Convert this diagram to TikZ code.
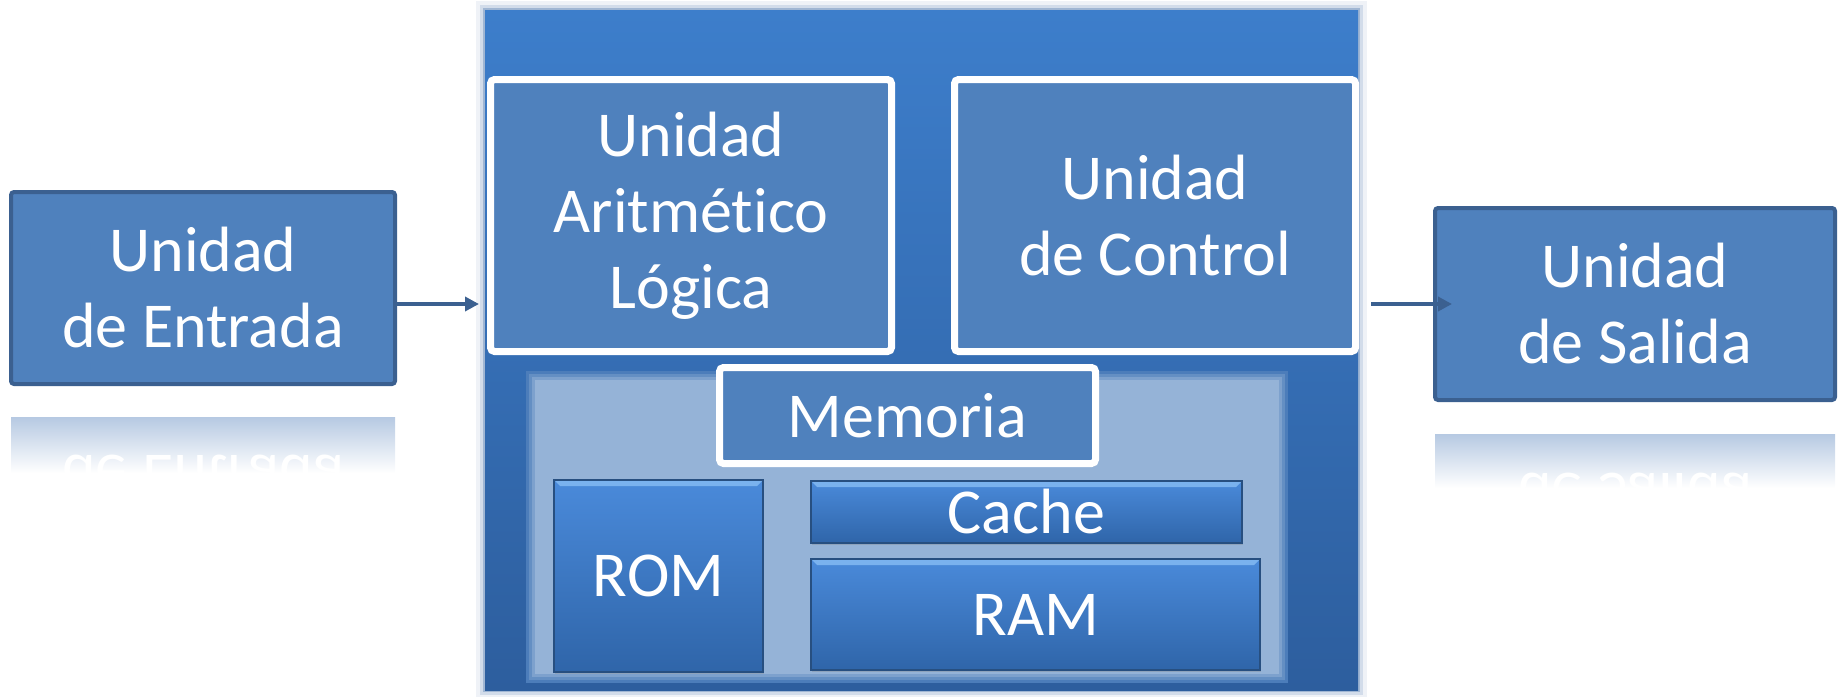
\documentclass[tikz,border=0pt]{standalone}
\usepackage{fontspec}
\setmainfont[Ligatures=NoCommon]{Carlito}
\usepackage{xcolor}
\usetikzlibrary{arrows.meta,shadows}

\definecolor{boxblue}{HTML}{4F81BD}
\definecolor{boxedge}{HTML}{3B6090}
\definecolor{cputop}{HTML}{3D7ECB}
\definecolor{cpubot}{HTML}{2D5E9E}
\colorlet{cpumid}{cputop!40!cpubot}
\definecolor{panelblue}{HTML}{95B3D7}
\definecolor{chiptop}{HTML}{4A8ADA}
\definecolor{chipbot}{HTML}{2F65A9}
\definecolor{chipedge}{HTML}{274F80}
\definecolor{chiphi}{HTML}{7AB2EE}
\definecolor{reflblue}{HTML}{B6C9E2}
\newcommand\letra{\fontsize{32}{38}\selectfont}

\tikzset{
  unidad/.style={fill=boxblue, draw=boxedge, line width=2pt, rounded corners=1.5pt,
    text=white, font=\letra, align=center, inner sep=0pt, outer sep=0pt},
  interna/.style={fill=boxblue, draw=white, line width=3.5pt, rounded corners=2pt,
    drop shadow={shadow xshift=1pt, shadow yshift=-1.5pt, opacity=.35},
    text=white, font=\letra, align=center, inner sep=0pt, outer sep=0pt},
  chip/.style={top color=chiptop, bottom color=chipbot, draw=chipedge, line width=.8pt,
    drop shadow={shadow xshift=.6pt, shadow yshift=-.8pt, opacity=.3},
    text=white, font=\letra, inner sep=0pt, outer sep=0pt,
    path picture={
      \fill[chiphi] (path picture bounding box.north west) -- (path picture bounding box.north east)
        -- ([shift={(-3pt,-3pt)}]path picture bounding box.north east)
        -- ([shift={(3pt,-3pt)}]path picture bounding box.north west) -- cycle;}},
  cpu/.style={minimum width=436.5pt, minimum height=340pt, inner sep=0pt, outer sep=0pt,
    top color=cputop, bottom color=cpubot,
    preaction={draw=cpubot, line width=9pt, opacity=.08},
    preaction={draw=cpubot, line width=5pt, opacity=.15},
    preaction={draw=cpubot, line width=2pt, opacity=.3}},
  panel/.style={minimum width=372pt, minimum height=147pt, inner sep=0pt, outer sep=0pt,
    fill=panelblue,
    preaction={draw=panelblue!25!cpumid, line width=9pt},
    preaction={draw=panelblue!50!cpumid, line width=6pt},
    preaction={draw=panelblue!75!cpumid, line width=3pt}},
  flecha/.style={draw=boxedge, line width=2pt, -{Triangle[length=7pt,width=7pt]}},
  reflejo/.style={anchor=base, yscale=-1, transform shape, text=white, font=\letra, inner sep=0pt}
}

\begin{document}
\begin{tikzpicture}[x=0.5pt,y=-0.5pt]
\useasboundingbox (0,0) rectangle (1841,696);

% procesador
\node[cpu] (cpu) at (921.5,350) {};
\node[panel] (mem) at (906.5,527) {};
\node[interna, minimum width=200.5pt, minimum height=136pt] (alu) at (691,215.5) {Unidad\\Aritmético\\Lógica};
\node[interna, minimum width=200.5pt, minimum height=136pt] (uc) at (1155,215.5) {Unidad\\de Control};
\node[interna, minimum width=188pt, minimum height=48pt] (memoria) at (907.5,415.5) {Memoria};
\node[chip, minimum width=104.5pt, minimum height=96pt] (rom) at (658.5,576) {ROM};
\node[chip, minimum width=215.5pt, minimum height=31pt] (cache) at (1026.5,512) {Cache};
\node[chip, minimum width=224.5pt, minimum height=55.5pt] (ram) at (1035.5,614.5) {RAM};

% entrada y salida
\node[unidad, minimum width=192pt, minimum height=96pt] (entrada) at (203,288) {Unidad\\de Entrada};
\node[unidad, minimum width=200pt, minimum height=96pt] (salida) at (1635,304) {Unidad\\de Salida};

\draw[flecha, shorten >=3pt] (entrada.east |- salida.west) -- (cpu.west |- salida.west);
\draw[flecha, shorten <=6.5pt, shorten >=-8.5pt] (cpu.east |- salida.west) -- (salida.west);

% reflejos
\foreach \n/\txt/\a/\b/\c in {entrada/de Entrada/16.5/44.5/35.5, salida/de Salida/17/44/36.5} {
  \shade[top color=reflblue, bottom color=white]
    ([yshift=-\a pt]\n.south west) rectangle ([yshift=-\b pt]\n.south east);
  \begin{scope}
    \clip ([yshift=-\a pt]\n.south west) rectangle ([yshift=-\b pt]\n.south east);
    \node[reflejo] at ([yshift=-\c pt]\n.south) {\txt};
  \end{scope}
}
\end{tikzpicture}
\end{document}
